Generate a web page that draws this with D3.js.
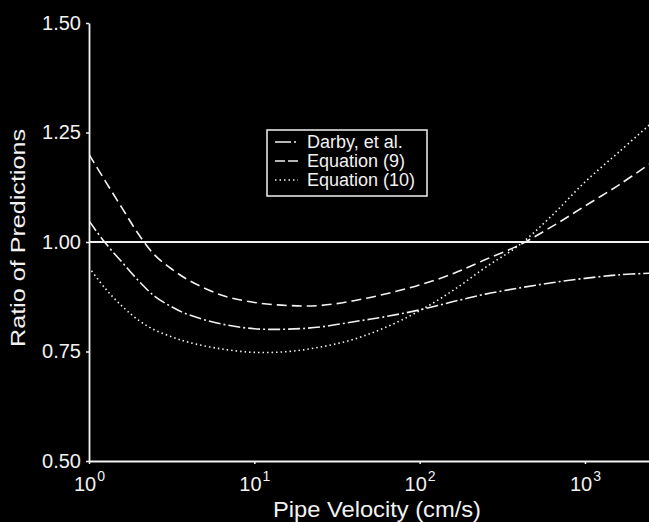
<!DOCTYPE html>
<html>
<head>
<meta charset="utf-8">
<script src="https://cdn.jsdelivr.net/npm/d3@7"></script>
<style>
  body { margin: 0; background: #000; }
  text { font-family: "Liberation Sans", Arial, sans-serif; fill: #f2f2f2; }
</style>
</head>
<body>
<svg id="chart" width="649" height="522"></svg>
<script>
const velocity = [1, 1.26, 1.6, 2, 2.5, 3.2, 4, 6.3, 10, 16, 25, 40, 63, 100, 160, 250, 400, 630, 1000, 1600, 2500];
const darby  = [1.048, 0.997, 0.952, 0.911, 0.876, 0.851, 0.834, 0.813, 0.802, 0.801, 0.806, 0.818, 0.830, 0.845, 0.864, 0.881, 0.895, 0.907, 0.917, 0.925, 0.929];
const eq9    = [1.200, 1.138, 1.075, 1.017, 0.970, 0.937, 0.913, 0.879, 0.862, 0.855, 0.855, 0.866, 0.882, 0.902, 0.928, 0.960, 0.993, 1.035, 1.082, 1.130, 1.180];
const eq10   = [0.942, 0.893, 0.852, 0.821, 0.799, 0.783, 0.771, 0.756, 0.748, 0.750, 0.760, 0.778, 0.806, 0.843, 0.890, 0.942, 0.993, 1.060, 1.137, 1.205, 1.270];

const seriesNames = ["Darby, et al.", "Equation (9)", "Equation (10)"];
const xTicks = [1, 10, 100, 1000];
const yTicks = [0.5, 0.75, 1.0, 1.25, 1.5];
const xExtent = [1, 2440];
const yExtent = [0.5, 1.5];

const svg = d3.select("#chart");
svg.append("rect").attr("width", 649).attr("height", 522).attr("fill", "#000");

const x = d3.scaleLog().domain(xExtent).range([89, 649]);
const y = d3.scaleLinear().domain(yExtent).range([461, 23]);

const ink = "#f2f2f2";
const dashes = ["12,3,2,3", "10,5", "1.5,3"];

// plot area clip
svg.append("defs").append("clipPath").attr("id", "clip")
  .append("rect").attr("x", 89).attr("y", 0).attr("width", 560).attr("height", 462);

// reference line at 1.00
svg.append("line")
  .attr("x1", x(xExtent[0])).attr("x2", 649)
  .attr("y1", y(1)).attr("y2", y(1))
  .attr("stroke", ink).attr("stroke-width", 1.8);

const line = d3.line()
  .x(d => x(d.v))
  .y(d => y(d.r))
  .curve(d3.curveCatmullRom.alpha(0.5));

const series = [darby, eq9, eq10].map((vals, i) => ({
  name: seriesNames[i],
  dash: dashes[i],
  values: velocity.map((v, j) => ({ v: v, r: vals[j] }))
}));

svg.append("g").attr("clip-path", "url(#clip)")
  .selectAll("path")
  .data(series)
  .join("path")
  .attr("fill", "none")
  .attr("stroke", ink)
  .attr("stroke-width", 1.6)
  .attr("stroke-dasharray", d => d.dash)
  .attr("d", d => line(d.values));

// axes
const yAxis = svg.append("g")
  .attr("transform", "translate(89,0)")
  .call(d3.axisLeft(y).tickValues(yTicks).tickSize(3).tickSizeOuter(0).tickFormat(d3.format(".2f")));

const xAxis = svg.append("g")
  .attr("transform", "translate(0,461)")
  .call(d3.axisBottom(x).tickValues(xTicks).tickSize(3).tickSizeOuter(0).tickFormat(() => ""));

[yAxis, xAxis].forEach(a => {
  a.select(".domain").attr("stroke", ink).attr("stroke-width", 1.8);
  a.selectAll(".tick line").attr("stroke", ink).attr("stroke-width", 1.5);
});

yAxis.selectAll(".tick text")
  .attr("x", -8)
  .attr("font-size", 20)
  .attr("fill", ink)
  .style("font-family", "'Liberation Sans', Arial, sans-serif");

xAxis.selectAll(".tick text").remove();
xAxis.selectAll(".tick").append("text")
  .attr("y", 30)
  .attr("text-anchor", "middle")
  .attr("fill", ink)
  .attr("font-size", 20)
  .each(function (d) {
    const t = d3.select(this);
    t.append("tspan").text("10");
    t.append("tspan").attr("dy", -10).attr("dx", 1).attr("font-size", 14).text(Math.round(Math.log10(d)));
  });

// axis titles
svg.append("text")
  .attr("x", 377).attr("y", 517)
  .attr("text-anchor", "middle")
  .attr("font-size", 22)
  .attr("textLength", 208)
  .attr("lengthAdjust", "spacingAndGlyphs")
  .text("Pipe Velocity (cm/s)");

svg.append("text")
  .attr("transform", "translate(25,238) rotate(-90)")
  .attr("text-anchor", "middle")
  .attr("font-size", 21)
  .attr("textLength", 218)
  .attr("lengthAdjust", "spacingAndGlyphs")
  .text("Ratio of Predictions");

// legend
const legend = svg.append("g").attr("transform", "translate(267,130)");
legend.append("rect")
  .attr("width", 160).attr("height", 66)
  .attr("fill", "#000").attr("stroke", ink).attr("stroke-width", 1.5);

const rows = legend.selectAll(".row")
  .data(series)
  .join("g")
  .attr("class", "row")
  .attr("transform", (d, i) => `translate(0,${12 + i * 19})`);

rows.append("line")
  .attr("x1", 8).attr("x2", 31)
  .attr("stroke", ink).attr("stroke-width", 1.6)
  .attr("stroke-dasharray", (d, i) => i === 0 ? "16,3,2,3" : i === 1 ? "10,3" : d.dash);

rows.append("text")
  .attr("x", 40).attr("y", 6)
  .attr("font-size", 18)
  .text(d => d.name);
</script>
</body>
</html>
